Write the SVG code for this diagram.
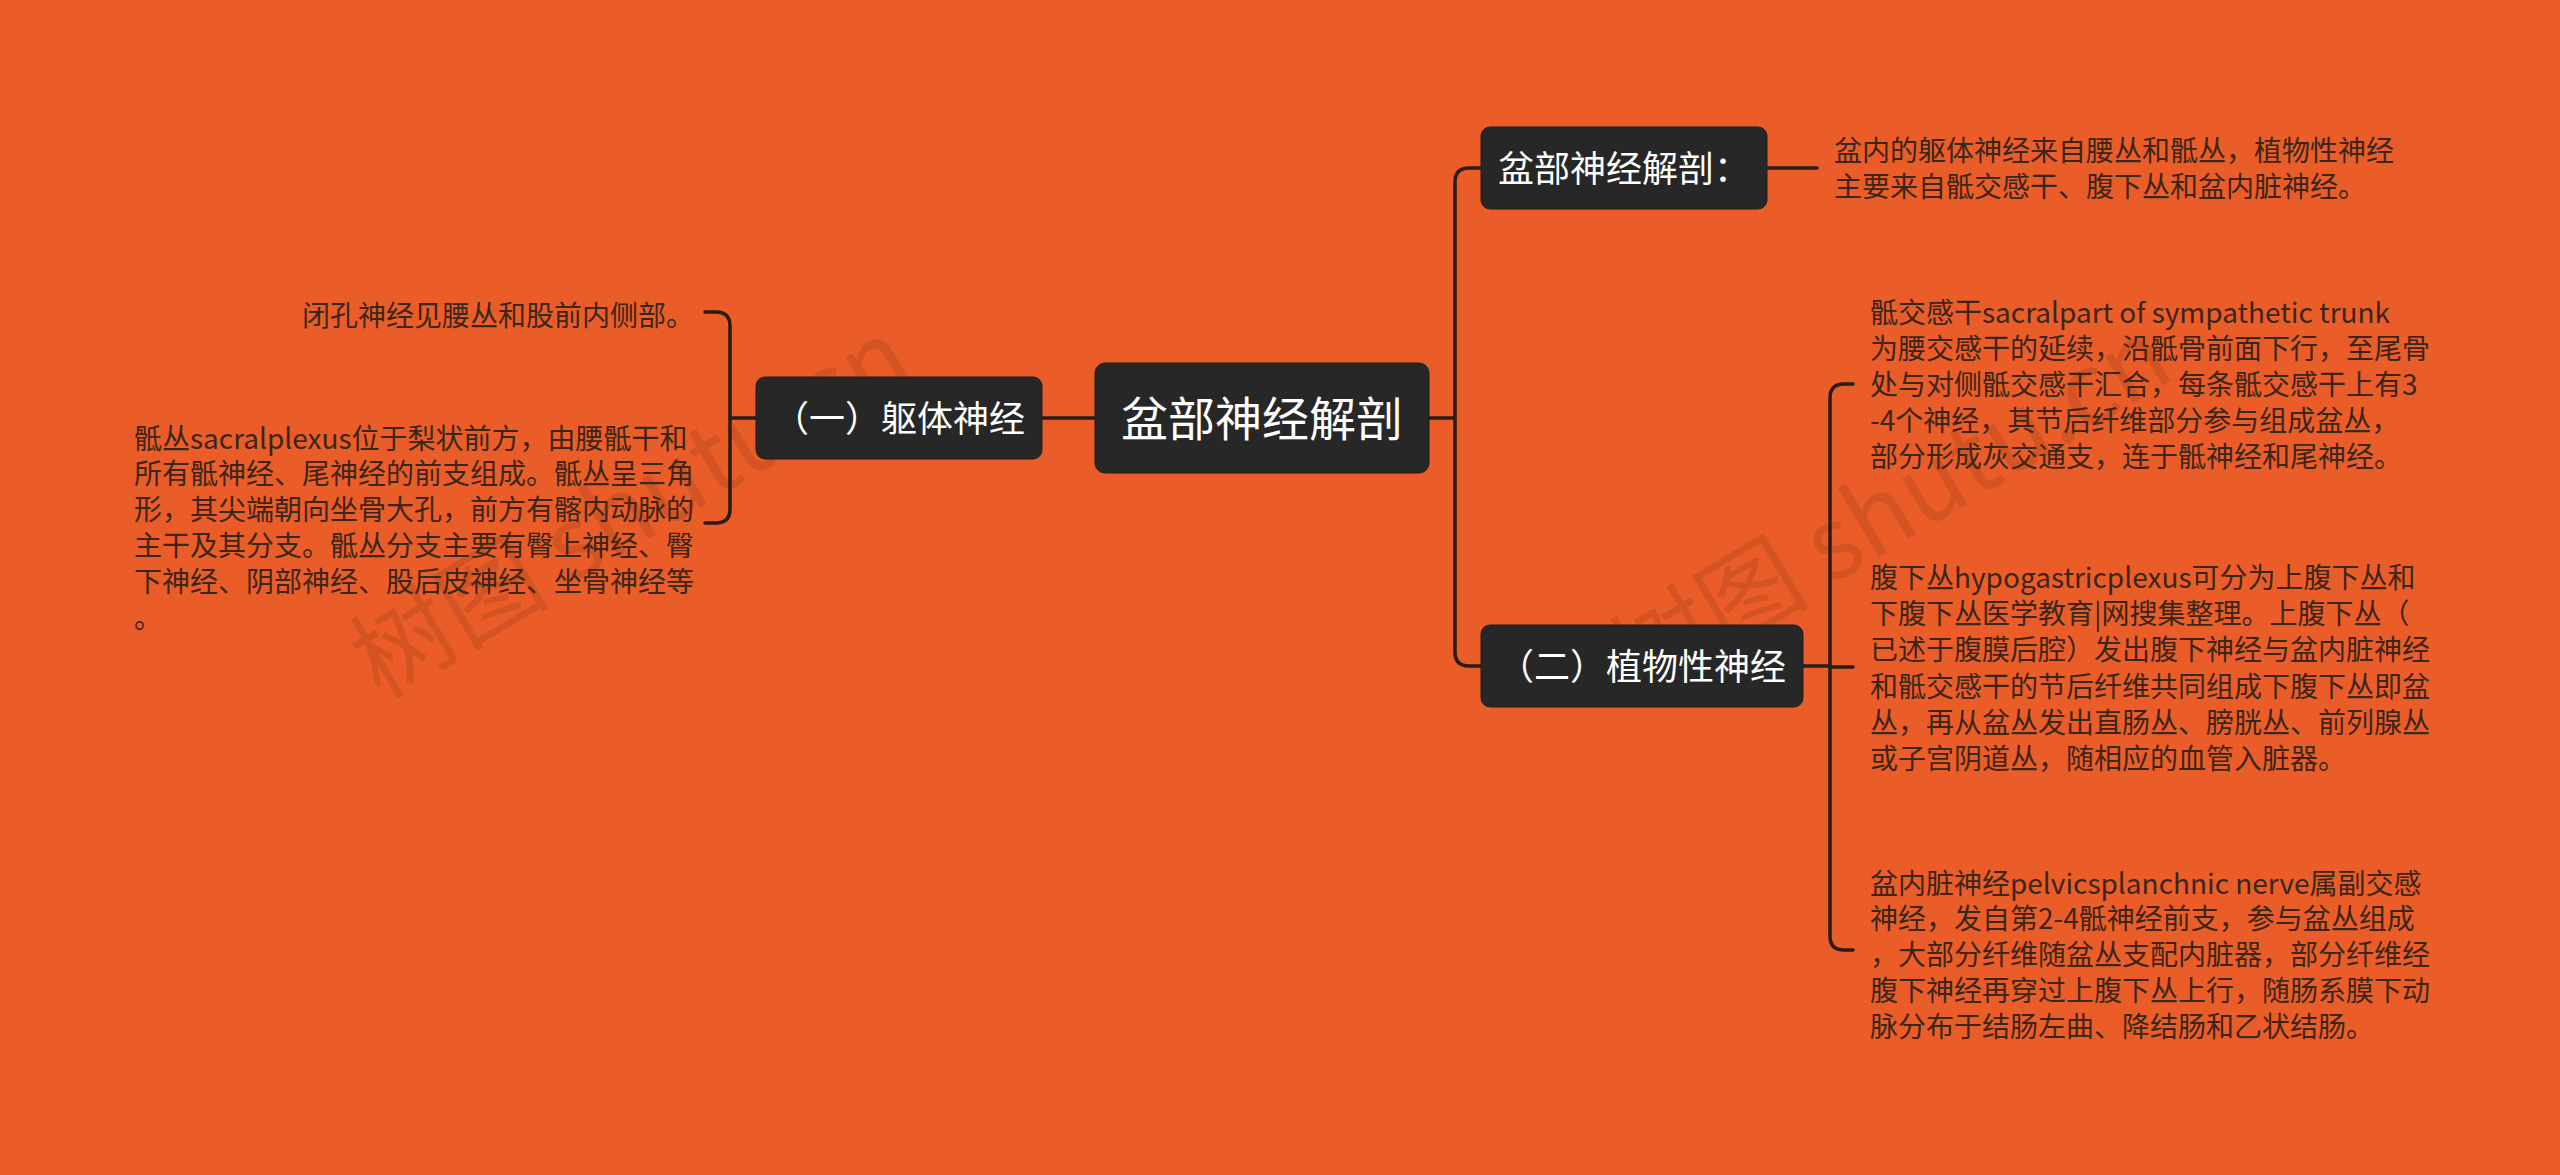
<svg xmlns="http://www.w3.org/2000/svg" width="2560" height="1175" viewBox="0 0 2560 1175">
<style>
.bg{fill:#EA5D28}
.box{fill:#272727;stroke:#1e1e1e;stroke-width:1}
.lbl{font-family:"Noto Sans CJK SC","Noto Sans",sans-serif;fill:#ffffff;text-anchor:middle}
.txt{font-family:"Noto Sans CJK SC","Noto Sans",sans-serif;font-size:28px;fill:#3c2519}
.conn{fill:none;stroke:#2a1c16;stroke-width:3.5;stroke-linecap:round}
.wm{font-family:"Noto Sans CJK SC","Noto Sans",sans-serif;font-size:100px;fill:#8a3416;opacity:0.22}
</style>
<rect class="bg" x="0" y="0" width="2560" height="1175"/>
<g id="watermarks">
<text class="wm" transform="translate(380,700) rotate(-31)">树图 shutu.cn</text>
<text class="wm" transform="translate(1640,700) rotate(-31)">树图 shutu.cn</text>
</g>
<g id="connectors">
<path class="conn" d="M1429,418 H1455"/>
<path class="conn" d="M1481,168 H1469 Q1455,168 1455,182 V652 Q1455,666 1469,666 H1481"/>
<path class="conn" d="M1767,168 H1817"/>
<path class="conn" d="M1803,666 H1830"/>
<path class="conn" d="M1853,384 H1844 Q1830,384 1830,398 V936 Q1830,950 1844,950 H1853"/>
<path class="conn" d="M1830,667 H1853"/>
<path class="conn" d="M1095,418 H1042"/>
<path class="conn" d="M756,418 H730"/>
<path class="conn" d="M705,312 H716 Q730,312 730,326 V509 Q730,523 716,523 H705"/>
</g>
<g id="root">
<rect class="box" x="1095" y="363" width="334" height="110" rx="10"/>
<text class="lbl" x="1262" y="436" font-size="47">盆部神经解剖</text>
</g>
<g id="n-anatomy">
<rect class="box" x="1481" y="127" width="286" height="82" rx="9"/>
<text class="lbl" x="1624" y="182" font-size="36">盆部神经解剖：</text>
</g>
<g id="t-anatomy">
<text class="txt" x="1834" y="160.6">盆内的躯体神经来自腰丛和骶丛，植物性神经</text>
<text class="txt" x="1834" y="196.6">主要来自骶交感干、腹下丛和盆内脏神经。</text>
</g>
<g id="n-somatic">
<rect class="box" x="756" y="377" width="286" height="82" rx="9"/>
<text class="lbl" x="899" y="432" font-size="36">（一）躯体神经</text>
</g>
<g id="t-obturator">
<text class="txt" x="302" y="325.6">闭孔神经见腰丛和股前内侧部。</text>
</g>
<g id="t-sacral">
<text class="txt" x="134" y="448.6">骶丛sacralplexus位于梨状前方，由腰骶干和</text>
<text class="txt" x="134" y="484.4">所有骶神经、尾神经的前支组成。骶丛呈三角</text>
<text class="txt" x="134" y="520.2">形，其尖端朝向坐骨大孔，前方有髂内动脉的</text>
<text class="txt" x="134" y="556">主干及其分支。骶丛分支主要有臀上神经、臀</text>
<text class="txt" x="134" y="591.8">下神经、阴部神经、股后皮神经、坐骨神经等</text>
<text class="txt" x="134" y="627.6">。</text>
</g>
<g id="n-autonomic">
<rect class="box" x="1481" y="625" width="322" height="82" rx="9"/>
<text class="lbl" x="1642" y="680" font-size="36">（二）植物性神经</text>
</g>
<g id="t-sympathetic">
<text class="txt" x="1870" y="322.6">骶交感干sacralpart of sympathetic trunk</text>
<text class="txt" x="1870" y="358.8">为腰交感干的延续，沿骶骨前面下行，至尾骨</text>
<text class="txt" x="1870" y="395">处与对侧骶交感干汇合，每条骶交感干上有3</text>
<text class="txt" x="1870" y="431.2">-4个神经，其节后纤维部分参与组成盆丛，</text>
<text class="txt" x="1870" y="467.4">部分形成灰交通支，连于骶神经和尾神经。</text>
</g>
<g id="t-hypogastric">
<text class="txt" x="1870" y="587.6">腹下丛hypogastricplexus可分为上腹下丛和</text>
<text class="txt" x="1870" y="623.9">下腹下丛医学教育|网搜集整理。上腹下丛（</text>
<text class="txt" x="1870" y="660.2">已述于腹膜后腔）发出腹下神经与盆内脏神经</text>
<text class="txt" x="1870" y="696.5">和骶交感干的节后纤维共同组成下腹下丛即盆</text>
<text class="txt" x="1870" y="732.8">丛，再从盆丛发出直肠丛、膀胱丛、前列腺丛</text>
<text class="txt" x="1870" y="769.1">或子宫阴道丛，随相应的血管入脏器。</text>
</g>
<g id="t-splanchnic">
<text class="txt" x="1870" y="893.6">盆内脏神经pelvicsplanchnic nerve属副交感</text>
<text class="txt" x="1870" y="929.4">神经，发自第2-4骶神经前支，参与盆丛组成</text>
<text class="txt" x="1870" y="965.2">，大部分纤维随盆丛支配内脏器，部分纤维经</text>
<text class="txt" x="1870" y="1001">腹下神经再穿过上腹下丛上行，随肠系膜下动</text>
<text class="txt" x="1870" y="1036.8">脉分布于结肠左曲、降结肠和乙状结肠。</text>
</g>
</svg>
